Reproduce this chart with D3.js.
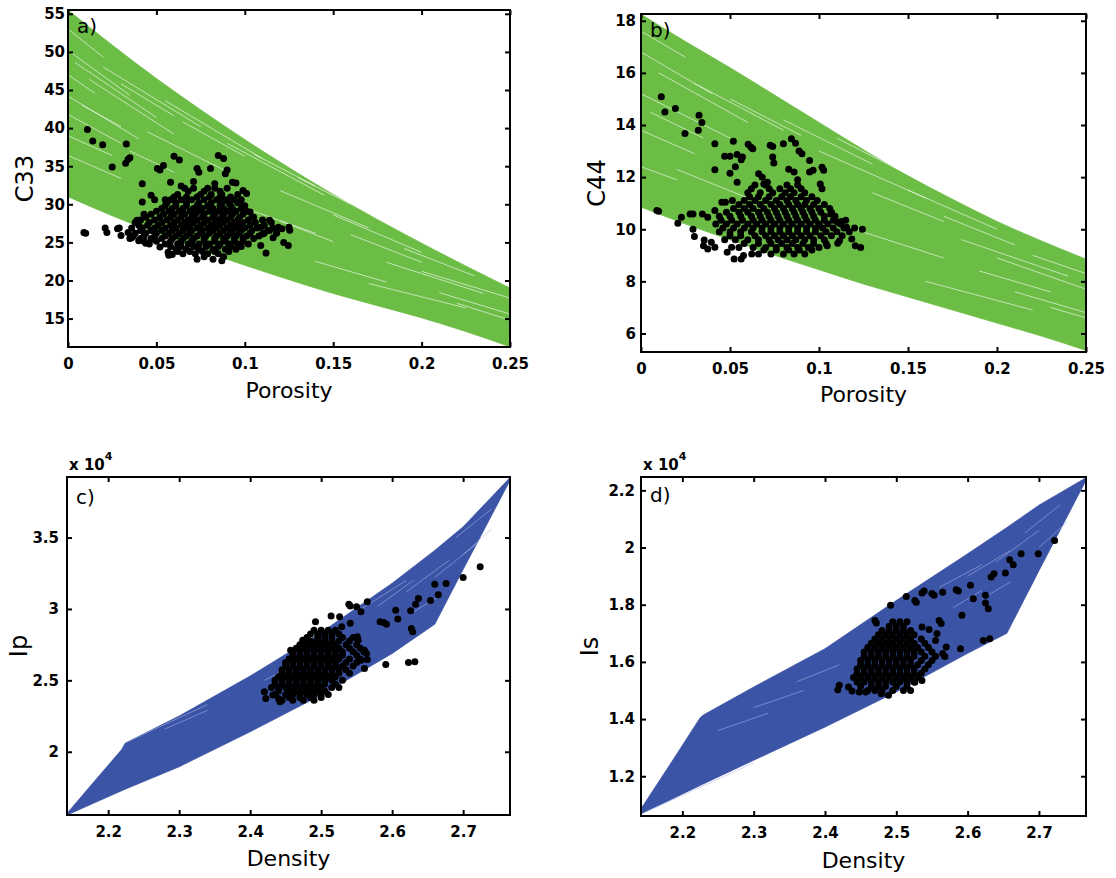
<!DOCTYPE html>
<html>
<head>
<meta charset="utf-8">
<script src="https://cdn.jsdelivr.net/npm/d3@7"></script>
<style>
  body { margin: 0; background: #fff; }
  svg { display: block; }
  text { font-family: "DejaVu Sans", "Liberation Sans", Arial, sans-serif; }
</style>
</head>
<body>
<svg id="chart" width="1116" height="878"></svg>
<script>
// ---------- Panel a: C33 vs porosity ----------
const porosityGrid = [0, 0.025, 0.05, 0.075, 0.1, 0.125, 0.15, 0.175, 0.2, 0.225, 0.25];
const c33Upper = [55.5, 50.9, 46.5, 42.4, 38.5, 34.8, 31.3, 28.0, 24.9, 21.9, 19.0];
const c33Lower = [31.0, 28.5, 26.2, 24.0, 22.0, 20.1, 18.3, 16.7, 15.1, 13.3, 11.3];
const c33Streaks = [
  [[0.0, 50.2], [0.035, 44.3]], [[0.004, 48.6], [0.05, 41.4]], [[0.012, 46.4], [0.06, 39.2]],
  [[0.0, 44.2], [0.04, 38.6]], [[0.02, 48.0], [0.075, 40.2]], [[0.055, 43.6], [0.11, 36.0]],
  [[0.0, 41.8], [0.03, 38.0]], [[0.045, 39.5], [0.09, 34.3]], [[0.09, 38.0], [0.145, 31.2]],
  [[0.12, 31.8], [0.17, 26.9]], [[0.15, 28.6], [0.2, 23.7]], [[0.18, 22.4], [0.235, 18.3]],
  [[0.17, 19.6], [0.225, 16.4]], [[0.2, 21.2], [0.25, 17.7]], [[0.0, 36.4], [0.03, 33.4]],
  [[0.21, 18.4], [0.25, 15.6]], [[0.1, 29.5], [0.14, 26.2]], [[0.0, 53.0], [0.02, 49.3]],
  [[0.008, 43.0], [0.03, 40.2]], [[0.0, 39.0], [0.025, 36.4]], [[0.03, 45.8], [0.06, 41.6]],
  [[0.065, 40.8], [0.1, 36.3]], [[0.07, 44.0], [0.1, 39.6]], [[0.105, 36.6], [0.14, 32.4]],
  [[0.13, 33.5], [0.16, 30.0]], [[0.16, 26.0], [0.2, 22.4]], [[0.19, 24.2], [0.23, 20.6]],
  [[0.22, 17.0], [0.25, 14.8]], [[0.14, 22.5], [0.18, 19.8]], [[0.0, 47.0], [0.015, 44.6]],
  [[0.035, 37.0], [0.06, 34.2]], [[0.12, 27.8], [0.15, 25.1]]
];
const c33Points = [
  [0.011, 39.8], [0.014, 38.3], [0.0196, 37.8], [0.033, 37.9], [0.025, 34.9], [0.0326, 35.4],
  [0.034, 35.9], [0.035, 36.1], [0.042, 32.7], [0.042, 30.3], [0.009, 26.3], [0.010, 26.2],
  [0.021, 26.9], [0.022, 26.3], [0.028, 26.8], [0.029, 26.9], [0.030, 25.9], [0.034, 26.3],
  [0.036, 25.6], [0.0506, 34.7], [0.052, 34.5], [0.054, 35.1], [0.060, 36.3], [0.063, 35.8],
  [0.073, 34.7], [0.074, 34.2], [0.085, 36.4], [0.088, 36.0], [0.0806, 34.7], [0.090, 34.5],
  [0.089, 34.0], [0.093, 32.9], [0.095, 32.8], [0.099, 31.8], [0.101, 31.4], [0.103, 29.0],
  [0.109, 27.0], [0.110, 26.1], [0.113, 26.6], [0.119, 27.0], [0.121, 26.8], [0.125, 27.0],
  [0.1254, 26.6], [0.122, 25.0], [0.1246, 24.6], [0.109, 24.6], [0.112, 23.6], [0.049, 30.6],
  [0.055, 30.6], [0.047, 31.2], [0.058, 32.9], [0.052, 24.4], [0.0566, 23.7], [0.057, 23.3],
  [0.059, 23.4], [0.073, 22.8], [0.077, 23.1], [0.082, 22.8], [0.087, 22.6], [0.088, 23.1],
  [0.040, 25.2], [0.044, 24.9], [0.047, 25.4], [0.064, 32.4], [0.071, 33.0], [0.083, 32.7],
  [0.097, 30.3], [0.105, 28.3], [0.114, 27.9], [0.116, 25.6], [0.039, 27.9], [0.043, 28.7]
];
const c33Cluster = [
  [32.1, [0.066, 0.071, 0.079, 0.083, 0.090]],
  [31.7, [0.068, 0.077, 0.086]],
  [31.3, [0.062, 0.075, 0.081, 0.087, 0.096]],
  [30.95, [0.060, 0.067, 0.073, 0.080, 0.086, 0.092]],
  [30.6, [0.058, 0.064, 0.070, 0.077, 0.084, 0.089, 0.094, 0.098]],
  [30.2, [0.056, 0.061, 0.067, 0.074, 0.081, 0.087, 0.091, 0.096]],
  [29.8, [0.055, 0.061, 0.067, 0.073, 0.079, 0.086, 0.092, 0.100]],
  [29.45, [0.053, 0.059, 0.065, 0.071, 0.076, 0.082, 0.088, 0.093, 0.098]],
  [29.1, [0.050, 0.057, 0.063, 0.069, 0.074, 0.080, 0.085, 0.090, 0.095, 0.101]],
  [28.7, [0.047, 0.054, 0.060, 0.066, 0.072, 0.077, 0.083, 0.088, 0.093, 0.099]],
  [28.3, [0.044, 0.052, 0.058, 0.064, 0.070, 0.076, 0.082, 0.087, 0.092, 0.097, 0.104]],
  [27.95, [0.041, 0.049, 0.056, 0.062, 0.068, 0.073, 0.079, 0.085, 0.090, 0.096, 0.102, 0.110]],
  [27.6, [0.038, 0.046, 0.053, 0.060, 0.066, 0.071, 0.077, 0.083, 0.088, 0.094, 0.099, 0.106, 0.115]],
  [27.25, [0.040, 0.045, 0.051, 0.058, 0.064, 0.069, 0.075, 0.081, 0.086, 0.092, 0.097, 0.103, 0.111]],
  [26.9, [0.036, 0.042, 0.049, 0.055, 0.061, 0.067, 0.073, 0.079, 0.084, 0.090, 0.095, 0.100, 0.107, 0.116]],
  [26.55, [0.041, 0.047, 0.053, 0.059, 0.065, 0.070, 0.076, 0.082, 0.088, 0.093, 0.098, 0.104, 0.114]],
  [26.2, [0.038, 0.044, 0.050, 0.057, 0.063, 0.069, 0.075, 0.080, 0.086, 0.092, 0.097, 0.103, 0.111, 0.118]],
  [25.85, [0.037, 0.043, 0.049, 0.055, 0.061, 0.067, 0.073, 0.078, 0.084, 0.090, 0.095, 0.101, 0.108]],
  [25.5, [0.035, 0.041, 0.047, 0.053, 0.059, 0.065, 0.071, 0.077, 0.083, 0.088, 0.094, 0.099, 0.105]],
  [25.15, [0.043, 0.050, 0.058, 0.064, 0.070, 0.077, 0.083, 0.089, 0.094, 0.099]],
  [24.8, [0.046, 0.055, 0.062, 0.068, 0.074, 0.080, 0.086, 0.091, 0.096, 0.102]],
  [24.45, [0.058, 0.064, 0.071, 0.078, 0.085, 0.092, 0.098]],
  [24.1, [0.061, 0.067, 0.074, 0.082, 0.089, 0.095]],
  [23.8, [0.062, 0.069, 0.076, 0.083, 0.091]],
  [23.5, [0.065, 0.072, 0.079, 0.085]]
];

// ---------- Panel b: C44 vs porosity ----------
const c44Upper = [18.25, 17.2, 16.2, 15.15, 14.1, 13.05, 12.05, 11.15, 10.3, 9.55, 8.85];
const c44Lower = [10.85, 10.2, 9.6, 9.0, 8.45, 7.9, 7.4, 6.9, 6.4, 5.9, 5.35];
const c44Streaks = [
  [[0.0, 16.8], [0.04, 15.2]], [[0.01, 16.0], [0.06, 14.1]], [[0.0, 15.2], [0.05, 13.5]],
  [[0.03, 15.6], [0.08, 13.8]], [[0.08, 14.2], [0.13, 12.5]], [[0.1, 13.0], [0.16, 11.2]],
  [[0.15, 11.5], [0.2, 10.0]], [[0.18, 9.6], [0.24, 8.2]], [[0.2, 8.9], [0.25, 7.7]],
  [[0.16, 8.0], [0.22, 6.9]], [[0.0, 13.8], [0.03, 12.9]], [[0.02, 12.3], [0.06, 11.2]],
  [[0.21, 7.6], [0.25, 6.8]], [[0.12, 10.0], [0.17, 8.9]], [[0.0, 17.6], [0.025, 16.6]],
  [[0.005, 14.5], [0.035, 13.5]], [[0.05, 15.0], [0.09, 13.6]], [[0.11, 13.5], [0.15, 12.1]],
  [[0.13, 11.4], [0.17, 10.3]], [[0.17, 10.5], [0.21, 9.4]], [[0.22, 9.0], [0.25, 8.3]],
  [[0.0, 12.4], [0.02, 11.9]], [[0.19, 8.4], [0.23, 7.6]], [[0.23, 7.0], [0.25, 6.6]]
];
const c44Points = [
  [0.0114, 15.08], [0.0134, 14.5], [0.0193, 14.63], [0.0326, 14.37], [0.0342, 14.1], [0.0322, 13.8],
  [0.0247, 13.67], [0.0415, 13.28], [0.0415, 12.28], [0.0519, 13.38], [0.047, 12.8], [0.050, 12.8],
  [0.054, 12.87], [0.0563, 12.67], [0.057, 12.77], [0.053, 12.4], [0.050, 12.15], [0.054, 11.8],
  [0.0602, 13.26], [0.0618, 13.15], [0.0628, 13.09], [0.0726, 13.22], [0.074, 13.18], [0.074, 12.77],
  [0.0746, 12.54], [0.080, 13.28], [0.0845, 13.47], [0.0868, 13.3], [0.0888, 13.0], [0.0904, 12.9],
  [0.0947, 12.64], [0.1017, 12.38], [0.1026, 12.26], [0.0947, 12.2], [0.0967, 12.26], [0.1007, 11.74],
  [0.1017, 11.55], [0.1066, 10.59], [0.1105, 10.27], [0.1125, 10.3], [0.1155, 10.08], [0.1184, 9.63],
  [0.1204, 9.37], [0.1234, 9.3], [0.1244, 10.0], [0.1115, 9.56], [0.1105, 9.46], [0.1046, 9.37],
  [0.0089, 10.72], [0.0099, 10.69], [0.0207, 10.23], [0.0227, 10.46], [0.0276, 10.59], [0.0292, 10.59],
  [0.0292, 10.0], [0.030, 9.72], [0.0355, 9.59], [0.0351, 9.37], [0.0375, 9.24], [0.0395, 9.5],
  [0.0415, 9.31], [0.0484, 9.12], [0.0509, 9.31], [0.0523, 8.86], [0.0563, 8.86], [0.0576, 8.99],
  [0.0622, 9.05], [0.0345, 10.59], [0.0375, 10.46], [0.0415, 10.72], [0.0454, 11.04], [0.0474, 11.04],
  [0.0513, 11.1], [0.0661, 12.13], [0.0681, 12.0], [0.069, 11.74], [0.071, 11.8], [0.083, 12.3],
  [0.088, 11.9], [0.086, 12.2]
];
const c44Cluster = [
  [11.7, [0.064, 0.070, 0.082, 0.088]],
  [11.55, [0.062, 0.072, 0.078, 0.084, 0.090]],
  [11.4, [0.060, 0.067, 0.074, 0.081, 0.086, 0.092]],
  [11.25, [0.061, 0.066, 0.072, 0.079, 0.084, 0.090, 0.096]],
  [11.1, [0.058, 0.064, 0.070, 0.076, 0.082, 0.087, 0.093, 0.099]],
  [10.95, [0.055, 0.061, 0.067, 0.073, 0.078, 0.083, 0.088, 0.092, 0.097, 0.103]],
  [10.8, [0.052, 0.058, 0.063, 0.069, 0.075, 0.080, 0.085, 0.090, 0.095, 0.100, 0.106]],
  [10.65, [0.048, 0.055, 0.060, 0.066, 0.071, 0.076, 0.081, 0.086, 0.091, 0.096, 0.101, 0.107]],
  [10.5, [0.044, 0.050, 0.056, 0.062, 0.067, 0.072, 0.077, 0.082, 0.087, 0.092, 0.097, 0.103, 0.109]],
  [10.35, [0.045, 0.051, 0.057, 0.063, 0.068, 0.073, 0.078, 0.083, 0.088, 0.093, 0.098, 0.103, 0.108, 0.115]],
  [10.2, [0.042, 0.048, 0.054, 0.060, 0.065, 0.070, 0.075, 0.080, 0.085, 0.090, 0.095, 0.100, 0.105, 0.112]],
  [10.05, [0.046, 0.052, 0.058, 0.063, 0.068, 0.073, 0.078, 0.083, 0.088, 0.093, 0.098, 0.102, 0.108, 0.114, 0.120]],
  [9.9, [0.044, 0.050, 0.056, 0.062, 0.068, 0.073, 0.078, 0.083, 0.088, 0.093, 0.098, 0.104, 0.110, 0.117]],
  [9.75, [0.050, 0.056, 0.064, 0.070, 0.075, 0.080, 0.085, 0.090, 0.095, 0.101, 0.107, 0.113]],
  [9.6, [0.047, 0.053, 0.060, 0.066, 0.072, 0.077, 0.082, 0.087, 0.092, 0.097, 0.103]],
  [9.45, [0.058, 0.066, 0.073, 0.079, 0.085, 0.091, 0.097, 0.104]],
  [9.3, [0.055, 0.063, 0.070, 0.076, 0.082, 0.088, 0.094, 0.100]],
  [9.2, [0.069, 0.076, 0.083, 0.089, 0.096]],
  [9.05, [0.066, 0.073, 0.080, 0.086, 0.092]]
];

// ---------- Panel c: Ip (x 10^4) vs density ----------
const densityGridC = [2.142, 2.18, 2.219, 2.224, 2.3, 2.4, 2.5, 2.6, 2.66, 2.7, 2.766];
const ipUpper = [1.568, 1.79, 2.015, 2.06, 2.25, 2.53, 2.835, 3.18, 3.41, 3.575, 3.92];
const ipLower = [1.557, 1.641, 1.727, 1.738, 1.895, 2.14, 2.397, 2.688, 2.893, 3.277, 3.90];
const ipStreaks = [
  [[2.55, 2.98], [2.62, 3.2]], [[2.62, 3.12], [2.68, 3.34]], [[2.66, 3.22], [2.72, 3.46]],
  [[2.69, 3.5], [2.74, 3.7]], [[2.28, 2.16], [2.34, 2.29]], [[2.225, 2.065], [2.34, 2.33]],
  [[2.63, 2.98], [2.67, 3.1]], [[2.42, 2.5], [2.47, 2.63]], [[2.58, 3.02], [2.63, 3.2]],
  [[2.7, 3.38], [2.74, 3.56]]
];
const ipPoints = [
  [2.724, 3.295], [2.700, 3.22], [2.676, 3.178], [2.660, 3.173], [2.665, 3.10], [2.654, 3.06],
  [2.637, 3.073], [2.633, 3.033], [2.626, 2.987], [2.605, 2.99], [2.608, 2.93], [2.583, 2.91],
  [2.588, 2.905], [2.592, 2.893], [2.627, 2.863], [2.629, 2.84], [2.591, 2.611], [2.623, 2.625],
  [2.632, 2.63], [2.565, 3.05], [2.539, 3.033], [2.541, 3.02], [2.550, 3.015], [2.556, 2.98],
  [2.514, 2.95], [2.526, 2.945], [2.492, 2.91], [2.541, 2.90], [2.529, 2.875], [2.551, 2.805],
  [2.552, 2.78], [2.561, 2.71], [2.564, 2.688], [2.556, 2.64], [2.565, 2.646], [2.561, 2.583],
  [2.457, 2.71], [2.474, 2.78], [2.420, 2.42], [2.422, 2.373], [2.432, 2.397], [2.442, 2.35],
  [2.440, 2.373]
];
const ipCluster = [
  [2.85, [2.49, 2.50, 2.51, 2.52]],
  [2.825, [2.485, 2.495, 2.505, 2.515, 2.525]],
  [2.80, [2.48, 2.495, 2.505, 2.515, 2.53, 2.545]],
  [2.775, [2.475, 2.485, 2.495, 2.505, 2.515, 2.525, 2.54]],
  [2.75, [2.47, 2.48, 2.49, 2.50, 2.51, 2.52, 2.535, 2.55]],
  [2.725, [2.465, 2.475, 2.485, 2.495, 2.505, 2.515, 2.525, 2.54, 2.555]],
  [2.70, [2.46, 2.47, 2.48, 2.49, 2.50, 2.51, 2.52, 2.53, 2.545, 2.56]],
  [2.675, [2.46, 2.47, 2.48, 2.49, 2.50, 2.51, 2.52, 2.53, 2.55]],
  [2.65, [2.455, 2.465, 2.475, 2.485, 2.495, 2.505, 2.515, 2.525, 2.54, 2.555]],
  [2.625, [2.45, 2.46, 2.47, 2.48, 2.49, 2.50, 2.51, 2.52, 2.535, 2.55]],
  [2.60, [2.45, 2.46, 2.47, 2.48, 2.49, 2.50, 2.51, 2.52, 2.53, 2.545]],
  [2.575, [2.445, 2.455, 2.465, 2.475, 2.485, 2.495, 2.505, 2.515, 2.525, 2.535]],
  [2.55, [2.445, 2.455, 2.465, 2.475, 2.485, 2.495, 2.505, 2.515, 2.525, 2.54]],
  [2.525, [2.44, 2.45, 2.46, 2.47, 2.48, 2.49, 2.50, 2.51, 2.52]],
  [2.50, [2.435, 2.445, 2.455, 2.465, 2.475, 2.485, 2.495, 2.505, 2.515, 2.53]],
  [2.475, [2.435, 2.445, 2.455, 2.465, 2.475, 2.485, 2.495, 2.505, 2.52]],
  [2.45, [2.43, 2.44, 2.45, 2.46, 2.47, 2.48, 2.49, 2.50, 2.515, 2.525]],
  [2.425, [2.44, 2.455, 2.465, 2.475, 2.485, 2.495, 2.505]],
  [2.40, [2.435, 2.45, 2.46, 2.47, 2.48, 2.49, 2.50, 2.51]],
  [2.38, [2.455, 2.47, 2.485, 2.50]],
  [2.36, [2.445, 2.46, 2.475, 2.49]]
];

// ---------- Panel d: Is (x 10^4) vs density ----------
const densityGridD = [2.142, 2.185, 2.225, 2.23, 2.3, 2.4, 2.5, 2.6, 2.655, 2.7, 2.766];
const isUpper = [1.086, 1.25, 1.405, 1.415, 1.512, 1.646, 1.815, 1.978, 2.07, 2.148, 2.244];
const isLower = [1.069, 1.12, 1.168, 1.174, 1.256, 1.372, 1.495, 1.63, 1.70, 1.919, 2.235];
const isStreaks = [
  [[2.25, 1.36], [2.32, 1.42]], [[2.3, 1.44], [2.37, 1.5]], [[2.36, 1.53], [2.42, 1.59]],
  [[2.56, 1.86], [2.62, 1.94]], [[2.6, 1.9], [2.66, 1.99]], [[2.64, 1.95], [2.7, 2.06]],
  [[2.68, 2.05], [2.73, 2.15]], [[2.15, 1.076], [2.3, 1.247]], [[2.62, 1.82], [2.66, 1.88]],
  [[2.58, 1.79], [2.62, 1.85]], [[2.7, 2.0], [2.74, 2.09]]
];
const isPoints = [
  [2.722, 2.025], [2.699, 1.978], [2.675, 1.978], [2.664, 1.94], [2.659, 1.957], [2.653, 1.911],
  [2.637, 1.908], [2.633, 1.897], [2.604, 1.868], [2.608, 1.821], [2.625, 1.833], [2.625, 1.806],
  [2.629, 1.786], [2.584, 1.852], [2.587, 1.848], [2.592, 1.763], [2.590, 1.646], [2.622, 1.675],
  [2.631, 1.681], [2.565, 1.844], [2.550, 1.839], [2.553, 1.833], [2.539, 1.848], [2.536, 1.841],
  [2.514, 1.829], [2.492, 1.798], [2.526, 1.815], [2.528, 1.809], [2.470, 1.745], [2.472, 1.736],
  [2.560, 1.745], [2.563, 1.734], [2.557, 1.699], [2.555, 1.675], [2.565, 1.629], [2.568, 1.619],
  [2.570, 1.652], [2.536, 1.722], [2.546, 1.713], [2.420, 1.518], [2.418, 1.503], [2.433, 1.512],
  [2.438, 1.498], [2.448, 1.495], [2.457, 1.495], [2.479, 1.489], [2.489, 1.483], [2.536, 1.535],
  [2.526, 1.529]
];
const isCluster = [
  [1.74, [2.495, 2.505, 2.515]],
  [1.725, [2.49, 2.50, 2.51]],
  [1.71, [2.48, 2.49, 2.50, 2.51, 2.52]],
  [1.695, [2.475, 2.485, 2.495, 2.505, 2.515, 2.525]],
  [1.68, [2.47, 2.48, 2.49, 2.50, 2.51, 2.52, 2.535]],
  [1.665, [2.465, 2.475, 2.485, 2.495, 2.505, 2.515, 2.525, 2.54]],
  [1.65, [2.46, 2.47, 2.48, 2.49, 2.50, 2.51, 2.52, 2.53, 2.545]],
  [1.635, [2.455, 2.465, 2.475, 2.485, 2.495, 2.505, 2.515, 2.525, 2.535, 2.55]],
  [1.62, [2.455, 2.465, 2.475, 2.485, 2.495, 2.505, 2.515, 2.525, 2.54, 2.555]],
  [1.605, [2.45, 2.46, 2.47, 2.48, 2.49, 2.50, 2.51, 2.52, 2.535, 2.55]],
  [1.59, [2.45, 2.46, 2.47, 2.48, 2.49, 2.50, 2.51, 2.52, 2.53, 2.545]],
  [1.575, [2.445, 2.455, 2.465, 2.475, 2.485, 2.495, 2.505, 2.515, 2.525, 2.54]],
  [1.56, [2.445, 2.455, 2.465, 2.475, 2.485, 2.495, 2.505, 2.515, 2.525, 2.535]],
  [1.545, [2.44, 2.45, 2.46, 2.47, 2.48, 2.49, 2.50, 2.51, 2.52, 2.53]],
  [1.53, [2.445, 2.455, 2.465, 2.475, 2.485, 2.495, 2.505, 2.515, 2.525]],
  [1.515, [2.45, 2.465, 2.475, 2.485, 2.50, 2.515]],
  [1.50, [2.46, 2.47, 2.48, 2.495, 2.51, 2.52]]
];

// ---------- Axis ticks ----------
const porosityTicks = [0, 0.05, 0.1, 0.15, 0.2, 0.25];
const porosityTickLabels = ["0", "0.05", "0.1", "0.15", "0.2", "0.25"];
const c33Ticks = [15, 20, 25, 30, 35, 40, 45, 50, 55];
const c44Ticks = [6, 8, 10, 12, 14, 16, 18];
const densityTicks = [2.2, 2.3, 2.4, 2.5, 2.6, 2.7];
const densityTickLabels = ["2.2", "2.3", "2.4", "2.5", "2.6", "2.7"];
const ipTicks = [2, 2.5, 3, 3.5];
const ipTickLabels = ["2", "2.5", "3", "3.5"];
const isTicks = [1.2, 1.4, 1.6, 1.8, 2, 2.2];
const isTickLabels = ["1.2", "1.4", "1.6", "1.8", "2", "2.2"];

const GREEN = "#6cbd45";
const BLUE = "#3b54a6";

const svg = d3.select("#chart");

function rowsToPoints(rows) {
  return rows.flatMap(([yv, xs]) => xs.map(xv => [xv, yv]));
}

function drawPanel(cfg) {
  const g = svg.append("g").attr("class", "panel-" + cfg.id);
  const x = d3.scaleLinear().domain(cfg.xDomain).range([cfg.left, cfg.right]);
  const y = d3.scaleLinear().domain(cfg.yDomain).range([cfg.bottom, cfg.top]);

  const clipId = "clip-" + cfg.id;
  g.append("clipPath").attr("id", clipId)
    .append("rect")
    .attr("x", cfg.left).attr("y", cfg.top)
    .attr("width", cfg.right - cfg.left).attr("height", cfg.bottom - cfg.top);

  const plot = g.append("g").attr("clip-path", `url(#${clipId})`);

  // model bundle envelope
  const band = cfg.grid.map((gx, i) => ({ x: gx, lo: cfg.lower[i], hi: cfg.upper[i] }));
  plot.append("path")
    .datum(band)
    .attr("fill", cfg.color)
    .attr("stroke", cfg.color)
    .attr("stroke-width", 0.8)
    .attr("d", d3.area()
      .curve(cfg.curve)
      .x(d => x(d.x))
      .y0(d => y(d.lo))
      .y1(d => y(d.hi)));

  // thin gaps between the individual model curves
  const line = d3.line().x(d => x(d[0])).y(d => y(d[1]));
  plot.selectAll("path.gap")
    .data(cfg.streaks)
    .join("path")
    .attr("class", "gap")
    .attr("fill", "none")
    .attr("stroke", cfg.streakColor)
    .attr("stroke-opacity", cfg.streakOpacity)
    .attr("stroke-width", 0.8)
    .attr("d", line);

  // measured samples
  const pts = cfg.points.concat(rowsToPoints(cfg.cluster));
  plot.selectAll("circle")
    .data(pts)
    .join("circle")
    .attr("cx", d => x(d[0]))
    .attr("cy", d => y(d[1]))
    .attr("r", 3.5)
    .attr("fill", "#000");

  // axes: inward ticks on all four sides
  const tickLen = 5;
  const fmt = (labels, ticks) => d => labels[ticks.indexOf(d)];
  const axB = g.append("g").attr("transform", `translate(0,${cfg.bottom})`)
    .call(d3.axisBottom(x).tickValues(cfg.xTicks).tickFormat(fmt(cfg.xTickLabels, cfg.xTicks))
      .tickSizeInner(-tickLen).tickSizeOuter(0).tickPadding(11));
  const axL = g.append("g").attr("transform", `translate(${cfg.left},0)`)
    .call(d3.axisLeft(y).tickValues(cfg.yTicks).tickFormat(fmt(cfg.yTickLabels, cfg.yTicks))
      .tickSizeInner(-tickLen).tickSizeOuter(0).tickPadding(cfg.yPad));
  const axT = g.append("g").attr("transform", `translate(0,${cfg.top})`)
    .call(d3.axisTop(x).tickValues(cfg.xTicks).tickFormat("").tickSizeInner(-tickLen).tickSizeOuter(0));
  const axR = g.append("g").attr("transform", `translate(${cfg.right},0)`)
    .call(d3.axisRight(y).tickValues(cfg.yTicks).tickFormat("").tickSizeInner(-tickLen).tickSizeOuter(0));
  [axB, axL, axT, axR].forEach(a => {
    a.select(".domain").remove();
    a.selectAll(".tick line").attr("stroke", "#000").attr("stroke-width", 2);
    a.selectAll(".tick text")
      .attr("fill", "#000")
      .style("font-family", '"DejaVu Sans", "Liberation Sans", Arial, sans-serif')
      .style("font-weight", "bold")
      .style("font-size", "15px");
  });

  // frame
  g.append("rect")
    .attr("x", cfg.left).attr("y", cfg.top)
    .attr("width", cfg.right - cfg.left).attr("height", cfg.bottom - cfg.top)
    .attr("fill", "none").attr("stroke", "#000").attr("stroke-width", 2);

  // panel letter
  g.append("text")
    .attr("x", cfg.left + 9).attr("y", cfg.top + cfg.letterDy)
    .style("font-size", "20px")
    .text(cfg.letter);

  // axis titles
  g.append("text")
    .attr("x", (cfg.left + cfg.right) / 2).attr("y", cfg.xLabelY)
    .attr("text-anchor", "middle")
    .style("font-size", "22px")
    .text(cfg.xLabel);
  g.append("text")
    .attr("transform", `translate(${cfg.yLabelX},${(cfg.top + cfg.bottom) / 2}) rotate(-90)`)
    .attr("text-anchor", "middle")
    .style("font-size", "24px")
    .text(cfg.yLabel);

  if (cfg.exponent) {
    const t = g.append("text")
      .attr("x", cfg.left + 2).attr("y", cfg.top - 7)
      .style("font-size", "15px").style("font-weight", "bold");
    t.append("tspan").text("x 10");
    t.append("tspan").attr("dy", -10).style("font-size", "11px").text(cfg.exponent);
  }
}

drawPanel({
  id: "a", left: 68, right: 510, top: 10, bottom: 347,
  xDomain: [0, 0.25], yDomain: [11.27, 55.5],
  grid: porosityGrid, upper: c33Upper, lower: c33Lower, curve: d3.curveMonotoneX,
  color: GREEN, streaks: c33Streaks, streakColor: "#ffffff", streakOpacity: 0.75,
  points: c33Points, cluster: c33Cluster,
  xTicks: porosityTicks, xTickLabels: porosityTickLabels,
  yTicks: c33Ticks, yTickLabels: c33Ticks.map(String), yPad: 3,
  letter: "a)", letterDy: 23, xLabel: "Porosity", xLabelY: 398, yLabel: "C33", yLabelX: 33
});

drawPanel({
  id: "b", left: 641, right: 1086, top: 14, bottom: 352,
  xDomain: [0, 0.25], yDomain: [5.29, 18.26],
  grid: porosityGrid, upper: c44Upper, lower: c44Lower, curve: d3.curveMonotoneX,
  color: GREEN, streaks: c44Streaks, streakColor: "#ffffff", streakOpacity: 0.75,
  points: c44Points, cluster: c44Cluster,
  xTicks: porosityTicks, xTickLabels: porosityTickLabels,
  yTicks: c44Ticks, yTickLabels: c44Ticks.map(String), yPad: 5,
  letter: "b)", letterDy: 23, xLabel: "Porosity", xLabelY: 402, yLabel: "C44", yLabelX: 605
});

drawPanel({
  id: "c", left: 67, right: 510, top: 477, bottom: 815,
  xDomain: [2.142, 2.766], yDomain: [1.557, 3.924],
  grid: densityGridC, upper: ipUpper, lower: ipLower, curve: d3.curveLinear,
  color: BLUE, streaks: ipStreaks, streakColor: "#aab6e6", streakOpacity: 0.7,
  points: ipPoints, cluster: ipCluster,
  xTicks: densityTicks, xTickLabels: densityTickLabels,
  yTicks: ipTicks, yTickLabels: ipTickLabels, yPad: 8,
  letter: "c)", letterDy: 27, xLabel: "Density", xLabelY: 866, yLabel: "Ip", yLabelX: 27,
  exponent: "4"
});

drawPanel({
  id: "d", left: 641, right: 1086, top: 477, bottom: 816,
  xDomain: [2.142, 2.766], yDomain: [1.061, 2.2467],
  grid: densityGridD, upper: isUpper, lower: isLower, curve: d3.curveLinear,
  color: BLUE, streaks: isStreaks, streakColor: "#aab6e6", streakOpacity: 0.7,
  points: isPoints, cluster: isCluster,
  xTicks: densityTicks, xTickLabels: densityTickLabels,
  yTicks: isTicks, yTickLabels: isTickLabels, yPad: 6,
  letter: "d)", letterDy: 25, xLabel: "Density", xLabelY: 868, yLabel: "Is", yLabelX: 598,
  exponent: "4"
});
</script>
</body>
</html>
